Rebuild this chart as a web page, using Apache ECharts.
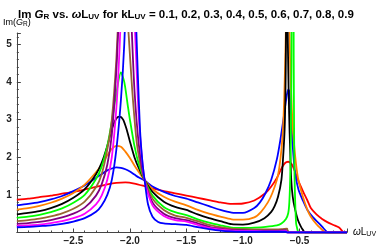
<!DOCTYPE html>
<html><head><meta charset="utf-8">
<script src="https://cdn.jsdelivr.net/npm/echarts@6/dist/echarts.min.js"></script>
<style>html,body{margin:0;padding:0;background:#fff}#c{width:382px;height:248px}</style>
</head><body><div id="c"></div>
<script>
// kL_UV values and colours
const kValues = ['0.1','0.2','0.3','0.4','0.5','0.6','0.7','0.8','0.9'];
const colors = ['#FF0000','#0000FF','#FF8000','#000000','#00FF00','#996633','#800080','#FF00FF','#0000FF'];
const xTicks = [-2.5,-2.0,-1.5,-1.0,-0.5];
const yTicks = [1,2,3,4,5];

// [omega L_UV, Im G_R]
const k01 = [[-3.0,0.87],[-2.9,0.9],[-2.8,0.94],[-2.7,0.98],[-2.6,1.03],[-2.5,1.08],[-2.4,1.14],[-2.3,1.21],[-2.2,1.28],[-2.12,1.32],[-2.04,1.33],[-1.96,1.3],[-1.87,1.23],[-1.8,1.17],[-1.7,1.1],[-1.6,1.04],[-1.5,0.98],[-1.4,0.92],[-1.3,0.86],[-1.2,0.8],[-1.1,0.76],[-1.0,0.77],[-0.9,0.85],[-0.8,1.05],[-0.75,1.22],[-0.7,1.45],[-0.66,1.7],[-0.63,1.84],[-0.6,1.88],[-0.57,1.82],[-0.54,1.62],[-0.51,1.37],[-0.47,1.1],[-0.43,0.85],[-0.4,0.65],[-0.35,0.48],[-0.3,0.36],[-0.25,0.27],[-0.2,0.2],[-0.15,0.13],[-0.12,0.03],[-0.11,0],[-0.08,0]];
const k02 = [[-3.0,0.72],[-2.9,0.76],[-2.8,0.81],[-2.7,0.88],[-2.6,0.97],[-2.5,1.1],[-2.4,1.25],[-2.3,1.45],[-2.2,1.65],[-2.16,1.7],[-2.12,1.73],[-2.08,1.72],[-2.04,1.68],[-2.0,1.62],[-1.96,1.54],[-1.92,1.46],[-1.87,1.38],[-1.8,1.22],[-1.7,1.08],[-1.6,0.97],[-1.5,0.9],[-1.4,0.8],[-1.3,0.7],[-1.2,0.6],[-1.1,0.53],[-1.0,0.52],[-0.9,0.65],[-0.85,0.8],[-0.8,1.05],[-0.75,1.4],[-0.7,1.95],[-0.67,2.45],[-0.64,3.05],[-0.62,3.5],[-0.6,3.8],[-0.59,3.75],[-0.575,3.1],[-0.56,2.3],[-0.54,1.6],[-0.51,1.15],[-0.47,0.85],[-0.43,0.6],[-0.38,0.4],[-0.33,0.25],[-0.29,0.12],[-0.26,0.02],[-0.25,0],[-0.08,0]];
const k03 = [[-3.0,0.61],[-2.9,0.65],[-2.8,0.71],[-2.7,0.79],[-2.6,0.9],[-2.5,1.05],[-2.4,1.27],[-2.3,1.6],[-2.25,1.8],[-2.2,2.05],[-2.16,2.22],[-2.12,2.3],[-2.08,2.28],[-2.04,2.15],[-2.0,1.98],[-1.96,1.78],[-1.92,1.6],[-1.87,1.39],[-1.8,1.15],[-1.7,0.95],[-1.6,0.82],[-1.5,0.72],[-1.4,0.6],[-1.3,0.5],[-1.2,0.42],[-1.1,0.35],[-1.0,0.34],[-0.9,0.4],[-0.84,0.55],[-0.78,0.8],[-0.74,1.05],[-0.7,1.4],[-0.68,1.7],[-0.66,2.2],[-0.645,2.8],[-0.635,3.6],[-0.627,4.5],[-0.62,5.5],[-0.615,7],[-0.6,7],[-0.59,5.5],[-0.58,4.2],[-0.565,3.1],[-0.55,2.4],[-0.53,1.8],[-0.51,1.4],[-0.47,0.95],[-0.43,0.6],[-0.4,0.42],[-0.35,0.22],[-0.31,0.1],[-0.28,0.02],[-0.27,0],[-0.08,0]];
const k04 = [[-3.0,0.48],[-2.9,0.52],[-2.8,0.57],[-2.7,0.65],[-2.6,0.76],[-2.5,0.92],[-2.4,1.15],[-2.3,1.55],[-2.25,1.85],[-2.2,2.3],[-2.16,2.75],[-2.12,3.03],[-2.09,3.08],[-2.06,3.0],[-2.03,2.75],[-2.0,2.42],[-1.96,2.0],[-1.92,1.7],[-1.87,1.39],[-1.8,1.08],[-1.7,0.82],[-1.6,0.68],[-1.5,0.6],[-1.4,0.48],[-1.3,0.38],[-1.2,0.3],[-1.1,0.22],[-1.0,0.21],[-0.9,0.26],[-0.81,0.38],[-0.75,0.55],[-0.72,0.7],[-0.69,0.95],[-0.66,1.4],[-0.645,2.0],[-0.632,2.72],[-0.625,3.6],[-0.62,5],[-0.615,8],[-0.61,8],[-0.603,5],[-0.595,3.6],[-0.588,2.72],[-0.573,1.39],[-0.56,0.95],[-0.544,0.68],[-0.514,0.33],[-0.49,0.17],[-0.47,0.07],[-0.45,0],[-0.08,0]];
const k05 = [[-3.0,0.39],[-2.9,0.42],[-2.8,0.47],[-2.7,0.54],[-2.6,0.64],[-2.5,0.79],[-2.4,1.0],[-2.3,1.42],[-2.25,1.75],[-2.2,2.3],[-2.16,2.95],[-2.12,3.7],[-2.08,4.25],[-2.05,4.0],[-2.02,3.4],[-2.0,3.0],[-1.96,2.3],[-1.92,1.8],[-1.87,1.39],[-1.8,0.98],[-1.7,0.68],[-1.6,0.54],[-1.5,0.46],[-1.4,0.35],[-1.3,0.26],[-1.2,0.19],[-1.1,0.13],[-1.0,0.12],[-0.9,0.13],[-0.8,0.15],[-0.7,0.19],[-0.66,0.24],[-0.62,0.36],[-0.6,0.51],[-0.59,0.8],[-0.582,1.5],[-0.576,2.72],[-0.571,4.5],[-0.567,8],[-0.556,8],[-0.551,4.5],[-0.548,2.72],[-0.544,1.5],[-0.538,0.8],[-0.53,0.24],[-0.52,0.1],[-0.514,0.03],[-0.51,0],[-0.08,0]];
const k06 = [[-3.0,0.3],[-2.9,0.33],[-2.8,0.37],[-2.7,0.43],[-2.6,0.51],[-2.5,0.63],[-2.4,0.82],[-2.3,1.2],[-2.25,1.55],[-2.2,2.2],[-2.16,3.0],[-2.12,4.6],[-2.09,6.5],[-2.065,7.5],[-2.04,6.5],[-2.01,5.2],[-1.98,3.8],[-1.94,2.4],[-1.9,1.7],[-1.87,1.39],[-1.8,0.9],[-1.7,0.6],[-1.6,0.45],[-1.5,0.39],[-1.4,0.3],[-1.3,0.2],[-1.2,0.14],[-1.1,0.1],[-1.0,0.09],[-0.9,0.08],[-0.8,0.08],[-0.7,0.08],[-0.65,0.09],[-0.61,0.1],[-0.6,0],[-0.08,0]];
const k07 = [[-3.0,0.23],[-2.9,0.25],[-2.8,0.28],[-2.7,0.33],[-2.6,0.4],[-2.5,0.5],[-2.4,0.66],[-2.3,0.98],[-2.25,1.28],[-2.2,1.8],[-2.16,2.6],[-2.12,4.3],[-2.1,5.6],[-2.07,7.5],[-2.045,8.5],[-2.02,7.5],[-1.99,5.8],[-1.96,3.8],[-1.92,2.3],[-1.87,1.39],[-1.8,0.8],[-1.7,0.5],[-1.6,0.38],[-1.5,0.33],[-1.4,0.24],[-1.3,0.15],[-1.2,0.1],[-1.1,0.07],[-1.0,0.06],[-0.9,0.05],[-0.8,0.05],[-0.7,0.05],[-0.62,0.06],[-0.61,0],[-0.08,0]];
const k08 = [[-3.0,0.18],[-2.9,0.19],[-2.8,0.21],[-2.7,0.25],[-2.6,0.3],[-2.5,0.38],[-2.4,0.5],[-2.3,0.75],[-2.25,0.98],[-2.2,1.4],[-2.16,2.0],[-2.12,3.3],[-2.09,5.0],[-2.06,7.5],[-2.02,9],[-1.98,7],[-1.95,5.0],[-1.92,3.0],[-1.87,1.39],[-1.8,0.72],[-1.7,0.44],[-1.6,0.33],[-1.5,0.29],[-1.4,0.2],[-1.3,0.12],[-1.2,0.08],[-1.1,0.05],[-1.0,0.04],[-0.9,0.04],[-0.8,0.03],[-0.7,0.03],[-0.62,0.04],[-0.61,0],[-0.08,0]];
const k09 = [[-3.0,0.14],[-2.9,0.15],[-2.8,0.17],[-2.7,0.19],[-2.6,0.23],[-2.5,0.29],[-2.4,0.38],[-2.3,0.55],[-2.25,0.72],[-2.2,1.0],[-2.16,1.4],[-2.12,2.2],[-2.08,3.5],[-2.05,5.0],[-2.02,7.5],[-1.98,9],[-1.95,6],[-1.93,4.2],[-1.91,2.7],[-1.89,1.9],[-1.87,1.39],[-1.84,0.75],[-1.8,0.42],[-1.75,0.28],[-1.7,0.24],[-1.6,0.22],[-1.5,0.2],[-1.4,0.14],[-1.3,0.09],[-1.2,0.05],[-1.1,0.03],[-1.0,0.02],[-0.9,0.02],[-0.8,0.02],[-0.7,0.02],[-0.62,0.02],[-0.61,0],[-0.08,0]];
const curves = [k01,k02,k03,k04,k05,k06,k07,k08,k09];

const chart = echarts.init(document.getElementById('c'), null, {renderer:'canvas'});
const fmt = v => String(v).replace('-', '\u2212');
const FF = 'Liberation Sans, Arial, sans-serif';
const labelFont = {fontFamily:FF, fontWeight:'bold', fontSize:10, color:'#222'};
chart.setOption({
  animation:false,
  title:{
    left:13, top:3,
    text:'{n|Im }{i|G}{s|R}{n| vs. }{i|ω}{n|L}{s|UV}{n| for kL}{s|UV}{n| = ' + kValues.join(', ') + '}',
    textStyle:{rich:{
      n:{fontFamily:FF,fontWeight:'bold',fontSize:11.5,color:'#000'},
      i:{fontFamily:FF,fontWeight:'bold',fontStyle:'italic',fontSize:11.5,color:'#000'},
      s:{fontFamily:FF,fontWeight:'bold',fontSize:8,color:'#000',padding:[5,0,0,0]}
    }}
  },
  grid:{left:15, right:35, top:33, bottom:15.5, containLabel:false},
  xAxis:{
    type:'value', min:-3, max:-0.08, interval:0.5,
    axisLine:{show:true, onZero:false, lineStyle:{color:'#444', width:1}},
    axisTick:{show:true, inside:true, length:4, lineStyle:{color:'#444'}},
    minorTick:{show:true, splitNumber:5, length:2, lineStyle:{color:'#444'}},
    splitLine:{show:false},
    axisLabel:Object.assign({margin:4, formatter:v => xTicks.indexOf(v) >= 0 ? fmt(v.toFixed(1)) : ''}, labelFont),
    name:'{i|ω}{n|L}{s|UV}', nameLocation:'end', nameGap:6,
    nameTextStyle:{rich:{
      n:{fontFamily:FF,fontSize:10,color:'#000'},
      i:{fontFamily:FF,fontStyle:'italic',fontSize:10,color:'#000'},
      s:{fontFamily:FF,fontSize:7,color:'#000',padding:[4,0,0,0]}
    }}
  },
  yAxis:{
    type:'value', min:0, max:5.3, interval:1,
    axisLine:{show:true, onZero:false, lineStyle:{color:'#444', width:1}},
    axisTick:{show:true, inside:true, length:4, lineStyle:{color:'#444'}},
    minorTick:{show:true, splitNumber:5, length:2, lineStyle:{color:'#444'}},
    splitLine:{show:false},
    axisLabel:Object.assign({margin:5, formatter:v => yTicks.indexOf(v) >= 0 ? String(v) : ''}, labelFont),
    name:'{n|Im(}{i|G}{s|R}{n|)}', nameLocation:'end', nameGap:5,
    nameTextStyle:{align:'center', rich:{
      n:{fontFamily:FF,fontSize:9,color:'#000'},
      i:{fontFamily:FF,fontStyle:'italic',fontSize:9,color:'#000'},
      s:{fontFamily:FF,fontSize:6.5,color:'#000',padding:[4,0,0,0]}
    }}
  },
  series: curves.map((d,i) => ({
    type:'line', name:'k='+kValues[i], data:d, showSymbol:false, symbol:'none',
    smooth:0.25, clip:true,
    lineStyle:{color:colors[i], width:1.8}
  }))
});
</script></body></html>
